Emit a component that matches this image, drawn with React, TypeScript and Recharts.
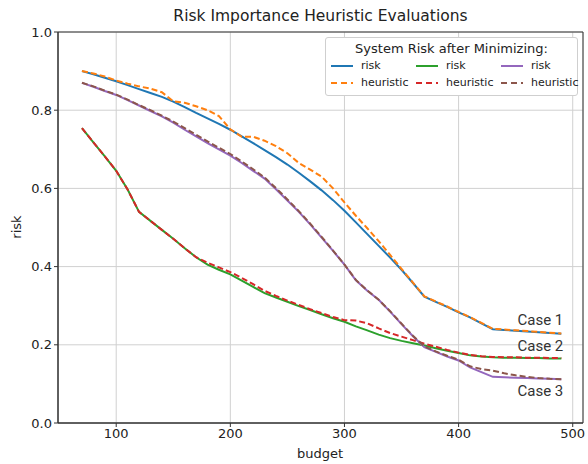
import React from 'react';
import {
  LineChart,
  Line,
  XAxis,
  YAxis,
  CartesianGrid,
  ReferenceArea,
} from 'recharts';

// budget values (x axis)
const budget = [
  70, 80, 90, 100, 110, 120, 130, 140, 150, 160, 170, 180, 190, 200, 210, 220, 230, 240, 250, 260, 270, 280,
  290, 300, 310, 320, 330, 340, 350, 360, 370, 380, 390, 400, 410, 420, 430, 440, 450, 460, 470, 480, 490,
];

const case1Risk = [
  0.9, 0.892, 0.883, 0.874, 0.864, 0.854, 0.844, 0.834, 0.822, 0.808, 0.793, 0.779, 0.765, 0.75, 0.733, 0.716,
  0.698, 0.68, 0.661, 0.64, 0.618, 0.595, 0.57, 0.543, 0.513, 0.483, 0.453, 0.423, 0.392, 0.358, 0.323, 0.31,
  0.297, 0.283, 0.27, 0.255, 0.24, 0.238, 0.236, 0.234, 0.232, 0.23, 0.228,
];
const case1Heuristic = [
  0.9, 0.894, 0.886, 0.876, 0.868, 0.861, 0.855, 0.846, 0.823, 0.819, 0.81, 0.8, 0.785, 0.751, 0.732, 0.732,
  0.722, 0.708, 0.69, 0.665, 0.648, 0.63, 0.6, 0.564, 0.53, 0.498, 0.465, 0.43, 0.394, 0.359, 0.324, 0.311,
  0.298, 0.284, 0.271, 0.256, 0.241, 0.239, 0.237, 0.235, 0.233, 0.231, 0.229,
];
const case2Risk = [
  0.754, 0.718, 0.682, 0.645, 0.597, 0.54, 0.517, 0.494, 0.471, 0.447, 0.424, 0.405, 0.392, 0.38, 0.364, 0.348,
  0.332, 0.321, 0.31, 0.299, 0.289, 0.278, 0.268, 0.259, 0.247, 0.237, 0.226, 0.217, 0.21, 0.204, 0.198, 0.191,
  0.185, 0.179, 0.173, 0.17, 0.168, 0.167, 0.167, 0.166, 0.166, 0.165, 0.165,
];
const case2Heuristic = [
  0.754, 0.718, 0.682, 0.645, 0.597, 0.54, 0.517, 0.494, 0.471, 0.447, 0.424, 0.41, 0.398, 0.386, 0.371, 0.355,
  0.338, 0.325, 0.313, 0.302, 0.291, 0.281, 0.271, 0.263, 0.262, 0.255, 0.242, 0.23, 0.221, 0.212, 0.203, 0.195,
  0.187, 0.18, 0.174, 0.171, 0.169, 0.168, 0.168, 0.167, 0.167, 0.166, 0.166,
];
const case3Risk = [
  0.87, 0.86, 0.849, 0.839, 0.826, 0.812, 0.798, 0.784, 0.768, 0.75, 0.733, 0.716, 0.7, 0.684, 0.665, 0.645,
  0.625, 0.598, 0.569, 0.54, 0.508, 0.474, 0.44, 0.405, 0.365, 0.338, 0.315, 0.285, 0.253, 0.222, 0.194, 0.182,
  0.17, 0.16, 0.142, 0.13, 0.118, 0.117, 0.116, 0.115, 0.114, 0.113, 0.112,
];
const case3Heuristic = [
  0.87, 0.861, 0.85, 0.84, 0.827, 0.813, 0.8, 0.786, 0.771, 0.754, 0.737, 0.72, 0.704, 0.688, 0.669, 0.649,
  0.628, 0.601, 0.572, 0.542, 0.51, 0.476, 0.441, 0.405, 0.366, 0.339, 0.315, 0.286, 0.254, 0.223, 0.196, 0.183,
  0.172, 0.162, 0.145, 0.138, 0.134, 0.127, 0.122, 0.118, 0.115, 0.113, 0.112,
];

const xTicks = [100, 200, 300, 400, 500];
const yTicks = [0, 0.2, 0.4, 0.6, 0.8, 1.0];
const xDomain = [49, 509];

const series = [
  { key: 'c1r', name: 'risk', values: case1Risk, color: '#1f77b4', dashed: false, caseLabel: 'Case 1', dy: -14 },
  { key: 'c1h', name: 'heuristic', values: case1Heuristic, color: '#ff7f0e', dashed: true },
  { key: 'c2r', name: 'risk', values: case2Risk, color: '#2ca02c', dashed: false, caseLabel: 'Case 2', dy: -12 },
  { key: 'c2h', name: 'heuristic', values: case2Heuristic, color: '#d62728', dashed: true },
  { key: 'c3r', name: 'risk', values: case3Risk, color: '#9467bd', dashed: false, caseLabel: 'Case 3', dy: 12 },
  { key: 'c3h', name: 'heuristic', values: case3Heuristic, color: '#8c564b', dashed: true },
];

const chartData = budget.map((b, i) => {
  const row: Record<string, number> = { budget: b };
  series.forEach((s) => {
    row[s.key] = s.values[i];
  });
  return row;
});

const FONT = '"DejaVu Sans", sans-serif';

// legend box, laid over the plot's top right corner
const LegendBox = () => (
  <div
    style={{
      position: 'absolute',
      left: 325,
      top: 37,
      border: '1px solid #cfcfcf',
      borderRadius: 3,
      background: '#fff',
      width: 253,
      padding: '3px 0 4px 0',
      fontFamily: FONT,
      color: '#222',
      boxSizing: 'border-box',
    }}
  >
    <div style={{ textAlign: 'center', fontSize: 13, lineHeight: '16px' }}>System Risk after Minimizing:</div>
    <div
      style={{
        display: 'grid',
        gridTemplateRows: '17px 17px',
        gridTemplateColumns: '85px 85px 82px',
        gridAutoFlow: 'column',
        paddingLeft: 5,
      }}
    >
      {series.map((s) => (
        <div key={s.key} style={{ display: 'flex', alignItems: 'center', fontSize: 11 }}>
          <svg width={22} height={10} style={{ marginRight: 8 }}>
            <line
              x1={0}
              y1={5}
              x2={22}
              y2={5}
              stroke={s.color}
              strokeWidth={2}
              strokeDasharray={s.dashed ? '6 4' : undefined}
            />
          </svg>
          {s.name}
        </div>
      ))}
    </div>
  </div>
);

export default function App() {
  const last = budget.length - 1;

  return (
    <div style={{ position: 'absolute', left: 0, top: 0, width: 588, height: 464, background: '#fff' }}>
      <div
        style={{
          position: 'absolute',
          top: 7,
          left: 58,
          width: 525,
          textAlign: 'center',
          fontFamily: FONT,
          fontSize: 15.5,
          color: '#222',
        }}
      >
        Risk Importance Heuristic Evaluations
      </div>
      <LineChart width={588} height={464} data={chartData} margin={{ top: 32, right: 5, left: 0, bottom: 0 }}>
        <CartesianGrid stroke="#d0d0d0" strokeWidth={1} />
        <XAxis
          dataKey="budget"
          type="number"
          domain={xDomain}
          allowDataOverflow
          ticks={xTicks}
          height={41}
          tickSize={4}
          stroke="#333"
          tick={{ fontSize: 13, fill: '#222', fontFamily: FONT }}
          label={{
            content: () => (
              <text x={320} y={458} textAnchor="middle" fontSize={13} fill="#222" fontFamily={FONT}>
                budget
              </text>
            ),
          }}
        />
        <YAxis
          type="number"
          domain={[0, 1]}
          ticks={yTicks}
          width={58}
          tickSize={4}
          stroke="#333"
          tickFormatter={(v: number) => v.toFixed(1)}
          tick={{ fontSize: 13, fill: '#222', fontFamily: FONT }}
          label={{
            content: () => (
              <text
                x={16}
                y={227}
                transform="rotate(-90 16 227)"
                textAnchor="middle"
                dominantBaseline="central"
                fontSize={13}
                fill="#222"
                fontFamily={FONT}
              >
                risk
              </text>
            ),
          }}
        />
        <ReferenceArea
          x1={xDomain[0]}
          x2={xDomain[1]}
          y1={0}
          y2={1}
          fill="none"
          stroke="#333"
          strokeWidth={1}
        />
        {series.map((s) => (
          <Line
            key={s.key}
            dataKey={s.key}
            name={s.name}
            type="linear"
            stroke={s.color}
            strokeWidth={2}
            strokeDasharray={s.dashed ? '6 3' : undefined}
            dot={false}
            activeDot={false}
            isAnimationActive={false}
            label={
              s.caseLabel
                ? (p: any) =>
                    p.index === last ? (
                      <text
                        key={s.key + '-label'}
                        x={p.x + 2}
                        y={p.y + s.dy}
                        textAnchor="end"
                        dominantBaseline="central"
                        fontSize={15}
                        fill="#333"
                        fontFamily="Roboto, sans-serif"
                      >
                        {s.caseLabel}
                      </text>
                    ) : (
                      <g key={s.key + '-' + p.index} />
                    )
                : undefined
            }
          />
        ))}
      </LineChart>
      <LegendBox />
    </div>
  );
}
